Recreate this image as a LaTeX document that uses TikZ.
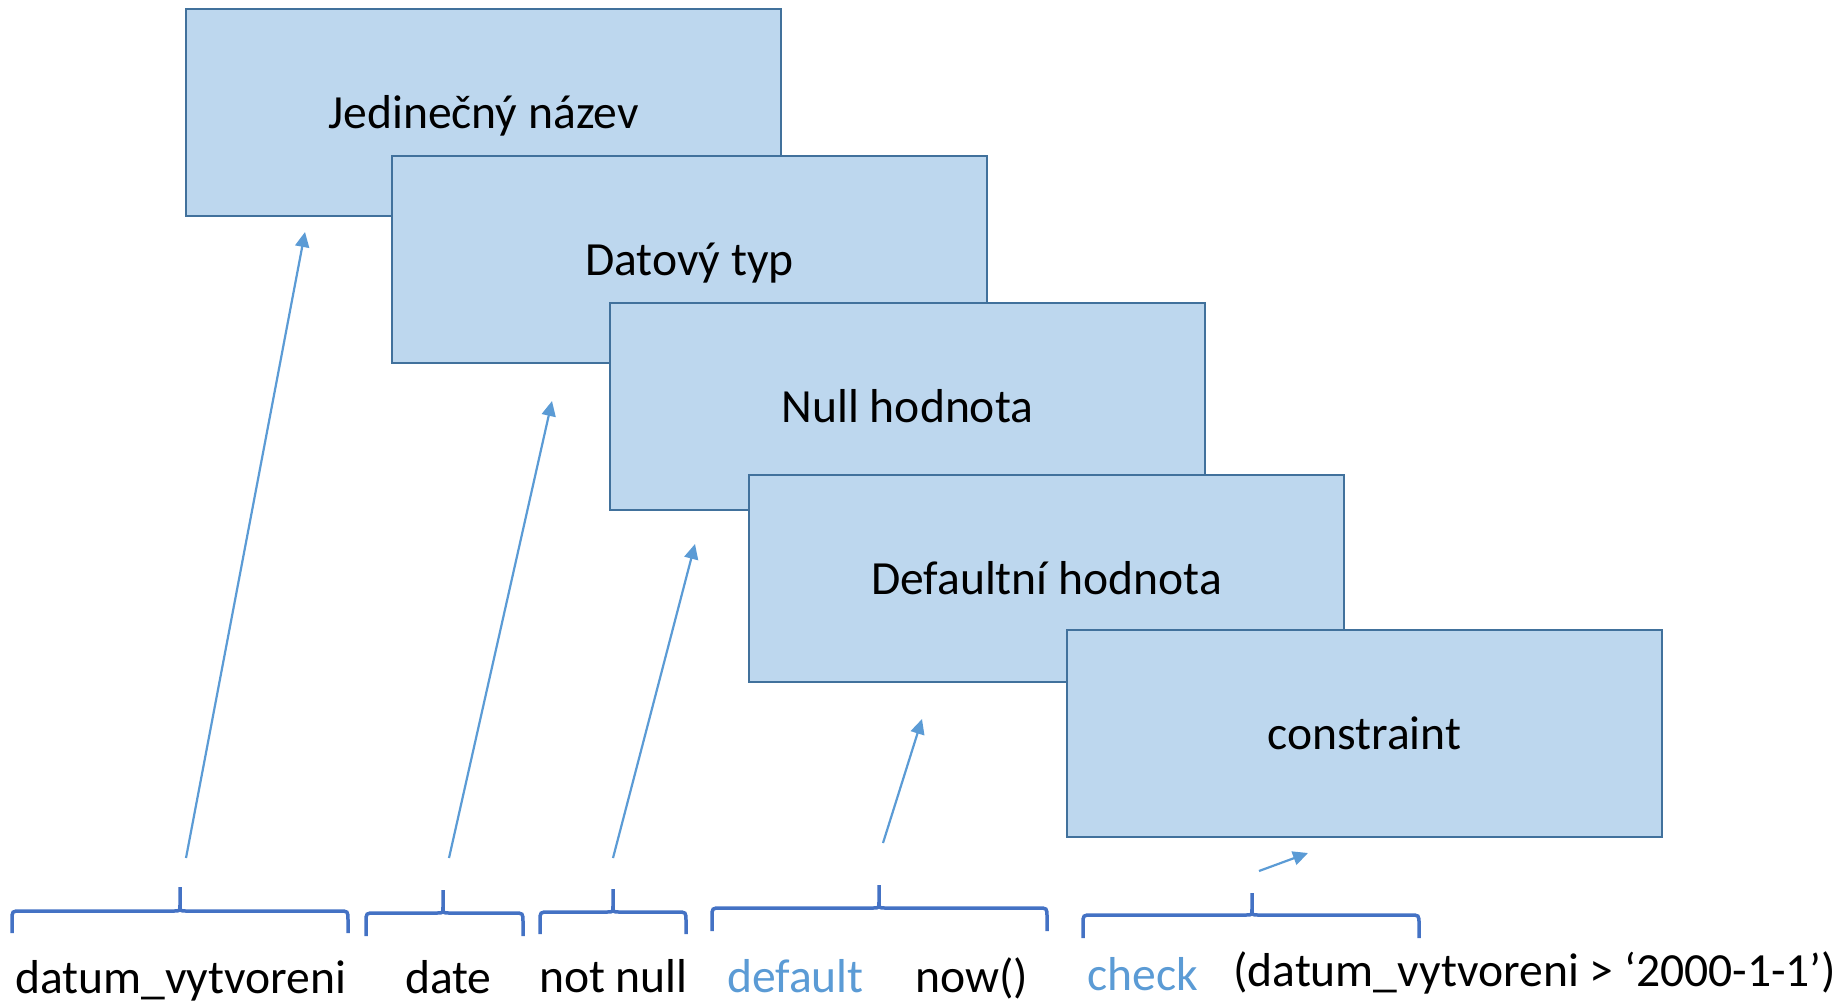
\documentclass[tikz,border=0pt]{standalone}
\usepackage{fontspec}
\setmainfont{Carlito}
\usetikzlibrary{arrows.meta}

\definecolor{boxfill}{HTML}{BDD7EE}
\definecolor{boxline}{HTML}{41719C}
\definecolor{bracecol}{HTML}{4472C4}
\definecolor{arrowcol}{HTML}{5B9BD5}
\definecolor{keyword}{HTML}{5B9BD5}

\tikzset{
  layerbox/.style={draw=boxline, fill=boxfill, line width=2pt,
    minimum width=595pt, minimum height=207pt, inner sep=0pt,
    text height=32pt, text depth=0pt},
  bracestyle/.style={draw=bracecol, line width=3.5pt},
  pointer/.style={draw=arrowcol, line width=2.2pt,
    -{Triangle[length=15pt, width=14pt]}},
  label/.style={anchor=base west, inner sep=0pt},
  kw/.style={label, text=keyword},
}

% square brace with a cusp: left, middle, right, line y, tip y, end y
\newcommand{\colbrace}[6]{%
  \draw[bracestyle] (#1,#6) -- (#1,#4+9) .. controls (#1,#4) .. (#1+9,#4)
    -- (#2-6,#4) .. controls (#2,#4) .. (#2,#4-6) -- (#2,#5);
  \draw[bracestyle] (#3,#6) -- (#3,#4+9) .. controls (#3,#4) .. (#3-9,#4)
    -- (#2+6,#4) .. controls (#2,#4) .. (#2,#4-6);
}

\begin{document}
\begin{tikzpicture}[x=1pt, y=-1pt,
  every node/.append style={font=\fontsize{47.6}{57}\selectfont}]
\useasboundingbox (0,0) rectangle (1847,1002);

% stacked layers of a column definition
\node[layerbox] (b1) at (483.5,112)  {Jedinečný název};
\node[layerbox] (b2) at (689.5,259)  {Datový typ};
\node[layerbox] (b3) at (907.5,406.5) {Null hodnota};
\node[layerbox] (b4) at (1046.5,578.5) {Defaultní hodnota};
\node[layerbox] (b5) at (1364.5,733) {constraint};

% braces over the parts of the statement
\colbrace{12}{180}{348}{911}{887}{933}
\colbrace{366}{443}{523}{913}{890}{936}
\colbrace{540}{613}{686}{912}{889}{934}
\colbrace{712}{879}{1047}{908}{885}{931}
\colbrace{1083}{1252}{1419}{915}{893}{938}

% the statement itself
\node[label] (t1) at (15,993)   {datum\_vytvoreni};
\node[label] (t2) at (405,993)  {date};
\node[label] (t3) at (539,992)  {not null};
\node[kw]    (t4) at (727,992)  {default};
\node[label] (t5) at (915,992)  {now()};
\node[kw]    (t6) at (1087,990) {check};
\node[label] (t7) at (1233,986) {(datum\_vytvoreni > ‘2000-1-1’)};

% pointers from each part to its layer
\coordinate (s1) at (186,858);  \coordinate (e1) at (305,232);
\coordinate (s2) at (449,858);  \coordinate (e2) at (552,401);
\coordinate (s3) at (613,858);  \coordinate (e3) at (695,544);
\coordinate (s4) at (883,843);  \coordinate (e4) at (922,719);
\coordinate (s5) at (1259,871); \coordinate (e5) at (1308,853);
\draw[pointer] (s1) -- (e1);
\draw[pointer] (s2) -- (e2);
\draw[pointer] (s3) -- (e3);
\draw[pointer] (s4) -- (e4);
\draw[pointer] (s5) -- (e5);
\end{tikzpicture}
\end{document}
